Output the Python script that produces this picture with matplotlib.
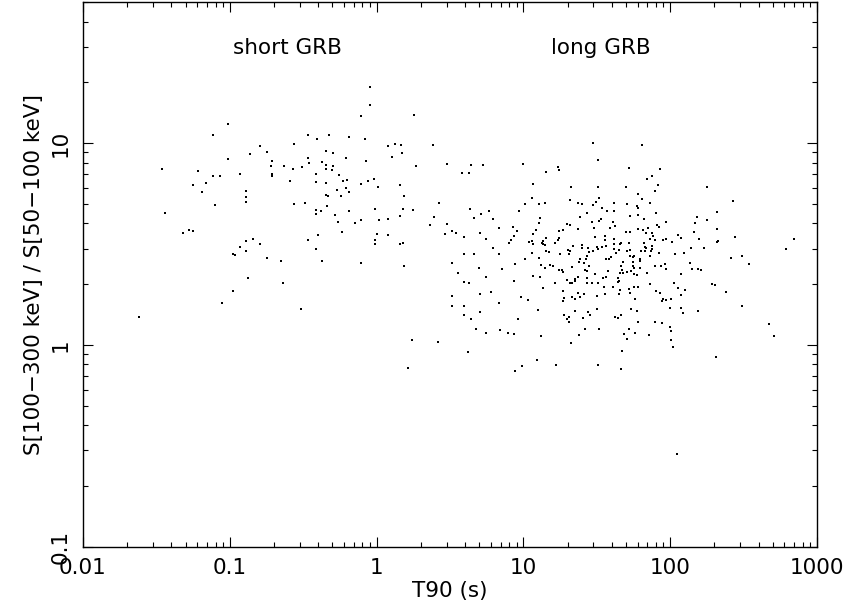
import numpy as np
import matplotlib.pyplot as plt
from matplotlib.ticker import LogLocator, FixedLocator, FixedFormatter, NullFormatter

# log10(T90 / s) and log10(hardness ratio)
lg_t90 = [
    -1.014, -1.117, -0.791, -0.750, -0.864, -1.014, -0.711, -0.721, -0.632, -1.465,
    -1.219, -0.932, -0.711, -0.711, -1.117, -1.069, -0.591, -1.165, -1.249, -1.192,
    -0.889, -0.889, -0.889, -1.103, -1.442, -1.317, -1.281, -1.249, -0.889, -0.839,
    -0.791, -0.932, -0.889, -0.980, -0.962, -0.750, -0.652, -0.875, -0.639, -0.980,
    -1.053, -1.617, -0.042, -0.042, -0.108, 0.254, -0.468, -0.326, -0.406, -0.188,
    -0.081, -0.561, 0.075, 0.122, 0.165, 0.386, -0.342, -0.299, 0.172, 0.104,
    -0.468, -0.208, -0.374, -0.458, -0.074, 0.482, -0.342, -0.299, 0.268, -0.570,
    -0.511, -0.342, -0.304, -0.410, -0.258, -0.410, -0.342, -0.229, -0.199, -0.108,
    -0.060, -0.021, -0.210, 0.010, 0.157, -0.267, -0.188, -0.342, -0.328, -0.244,
    0.184, -0.561, -0.490, -0.335, 0.425, -0.410, -0.410, -0.379, -0.285, -0.190,
    -0.010, 0.179, 0.250, -0.265, -0.147, -0.108, 0.015, 0.079, 0.157, 0.391,
    0.366, 0.480, 0.514, 0.539, 0.468, -0.236, -0.402, -0.468, 0.002, 0.075,
    -0.010, -0.010, 0.157, 0.177, -0.410, -0.372, -0.103, 0.188, 0.514, 0.557,
    0.516, 0.516, -0.513, 0.241, 0.213, 0.418,
    1.477, 1.511, 0.642, 0.724, 0.584, 0.628, 0.999, 1.154, 1.233, 1.243,
    1.062, 1.322, 1.511, 1.056, 1.315, 1.516, 1.495, 1.370, 1.400, 1.472,
    1.008, 1.106, 1.147, 1.534, 1.568, 0.635, 0.765, 0.972, 0.714, 0.666,
    0.794, 1.434, 1.383, 1.115, 1.532, 1.518, 1.465, 1.108, 1.295, 1.320,
    1.484, 1.591, 0.833, 0.926, 1.086, 1.370, 0.956, 1.240, 1.267, 0.594,
    0.703, 0.744, 0.933, 1.067, 1.486, 1.554, 1.554, 0.917, 1.154, 1.131,
    1.240, 1.236, 1.035, 1.058, 1.124, 1.133, 1.217, 0.903, 1.065, 1.144,
    1.397, 1.336, 1.400, 1.438, 1.500, 1.509, 1.534, 1.564, 1.475, 1.445,
    0.792, 1.156, 1.172, 1.301, 1.315, 0.598, 0.662, 0.835, 1.252, 1.308,
    1.436, 1.427, 1.386, 1.008, 1.108, 1.561, 1.584, 1.600,
    1.056, 0.598, 0.628, 0.698, 0.744, 0.853, 0.946, 0.935, 1.062, 1.110,
    1.117, 1.147, 1.183, 1.204, 1.240, 1.265, 1.270, 1.334, 1.377, 1.416,
    1.431, 1.420, 1.448, 1.373, 1.431, 1.431, 1.470, 1.511, 1.491, 1.541,
    1.566, 1.575, 1.547, 1.213, 1.299, 1.320, 1.329, 1.349, 1.354, 1.133,
    1.270, 0.707, 0.782, 0.985, 1.031, 1.274, 1.267, 1.331, 1.354, 1.370,
    1.386, 1.411, 1.500, 1.554, 0.598, 0.837, 0.703, 1.097, 1.352, 1.504,
    0.598, 0.646, 0.965, 1.274, 1.295, 1.311, 1.313, 1.407, 1.443, 1.452,
    0.678, 0.744, 0.842, 0.894, 0.933, 1.117, 1.418, 1.518, 1.379, 1.327,
    0.621, 1.092, 0.990, 0.944, 1.222, 1.511,
    1.810, 1.721, 1.930, 1.878, 1.839, 1.916, 1.698, 1.896, 1.784, 2.251,
    1.805, 2.429, 1.860, 1.614, 1.704, 1.771, 1.782, 1.620, 2.317, 1.901,
    1.725, 1.784, 1.819, 2.185, 2.251, 1.612, 1.969, 1.912, 1.921, 2.167,
    1.623, 1.780, 1.817, 1.851, 1.698, 1.728, 1.837, 1.873, 1.885, 2.317,
    2.160, 2.056, 2.073, 2.440, 2.843, 1.618, 1.862, 1.894, 1.948, 1.969,
    2.012, 2.199, 2.329, 2.322, 1.616, 1.661, 1.668, 1.716, 1.819, 1.614,
    1.648, 1.825, 1.832, 1.873, 1.873, 2.140, 2.228, 2.787, 1.629, 1.704,
    1.728, 1.800, 1.827, 1.868, 1.921, 2.030, 2.092, 1.723, 1.748, 1.755,
    1.793, 1.864, 2.415, 2.488,
    2.534, 1.677, 1.745, 1.791, 1.668, 1.675, 1.752, 1.745, 1.793, 1.894,
    1.937, 1.964, 1.974, 2.133, 2.148, 2.192, 2.213, 1.655, 1.680, 1.709,
    1.730, 1.750, 1.771, 1.844, 2.073, 1.646, 1.653, 1.643, 1.862, 2.026,
    2.288, 2.304, 1.609, 1.659, 1.718, 1.752, 1.780, 1.903, 1.928, 2.053,
    2.103, 2.377, 1.650, 1.725, 2.071, 1.759, 1.950, 1.944, 1.974, 2.008,
    1.730, 1.775, 1.998, 2.071, 2.085, 2.192, 2.490, 1.668, 1.627, 1.643,
    1.784, 1.898, 1.944, 2.672, 2.001, 2.005, 1.721, 1.687, 1.759, 1.855,
    2.705, 1.709, 2.005, 2.021, 1.673, 2.315, 1.668, 2.044,
]
lg_hr = [
    1.093, 1.039, 0.985, 0.957, 0.944, 0.921, 0.910, 0.888, 0.888, 0.873,
    0.861, 0.846, 0.845, 0.837, 0.838, 0.838, 0.812, 0.803, 0.790, 0.756,
    0.764, 0.731, 0.709, 0.693, 0.653, 0.555, 0.567, 0.562, 0.517, 0.527,
    0.498, 0.484, 0.463, 0.448, 0.443, 0.431, 0.416, 0.329, 0.306, 0.266,
    0.208, 0.140, 1.277, 1.190, 1.134, 1.139, 1.042, 1.040, 1.019, 1.032,
    1.022, 0.997, 0.985, 0.997, 0.989, 0.990, 0.961, 0.952, 0.952, 0.929,
    0.926, 0.924, 0.908, 0.901, 0.910, 0.896, 0.891, 0.888, 0.885, 0.871,
    0.881, 0.870, 0.868, 0.845, 0.843, 0.805, 0.800, 0.812, 0.818, 0.795,
    0.812, 0.820, 0.778, 0.780, 0.793, 0.767, 0.757, 0.744, 0.737, 0.737,
    0.736, 0.698, 0.704, 0.686, 0.704, 0.666, 0.649, 0.663, 0.646, 0.661,
    0.671, 0.673, 0.669, 0.607, 0.605, 0.617, 0.620, 0.623, 0.638, 0.633,
    0.592, 0.598, 0.565, 0.554, 0.549, 0.560, 0.544, 0.519, 0.549, 0.542,
    0.519, 0.498, 0.499, 0.507, 0.473, 0.418, 0.405, 0.391, 0.406, 0.357,
    0.244, 0.191, 0.176, 0.023, -0.116, 0.013,
    0.999, 0.914, 0.891, 0.891, 0.850, 0.850, 0.895, 0.855, 0.880, 0.868,
    0.797, 0.783, 0.782, 0.727, 0.716, 0.726, 0.707, 0.701, 0.696, 0.691,
    0.699, 0.696, 0.704, 0.678, 0.664, 0.671, 0.663, 0.664, 0.649, 0.630,
    0.625, 0.654, 0.635, 0.628, 0.623, 0.615, 0.607, 0.603, 0.597, 0.592,
    0.578, 0.577, 0.577, 0.582, 0.570, 0.572, 0.562, 0.562, 0.567, 0.537,
    0.554, 0.527, 0.540, 0.547, 0.535, 0.540, 0.522, 0.519, 0.529, 0.515,
    0.530, 0.519, 0.509, 0.515, 0.507, 0.499, 0.503, 0.503, 0.498, 0.496,
    0.494, 0.489, 0.478, 0.481, 0.483, 0.473, 0.483, 0.491, 0.466, 0.458,
    0.479, 0.466, 0.459, 0.469, 0.466, 0.451, 0.448, 0.448, 0.448, 0.448,
    0.441, 0.428, 0.428, 0.426, 0.431, 0.425, 0.425, 0.436,
    0.454, 0.314, 0.306, 0.383, 0.335, 0.375, 0.403, 0.319, 0.340, 0.335,
    0.396, 0.380, 0.395, 0.391, 0.373, 0.370, 0.360, 0.386, 0.413, 0.406,
    0.365, 0.370, 0.390, 0.337, 0.332, 0.309, 0.309, 0.307, 0.349, 0.332,
    0.337, 0.364, 0.287, 0.306, 0.320, 0.309, 0.307, 0.317, 0.325, 0.284,
    0.267, 0.251, 0.261, 0.236, 0.221, 0.233, 0.218, 0.239, 0.225, 0.256,
    0.239, 0.251, 0.244, 0.252, 0.191, 0.210, 0.165, 0.175, 0.168, 0.180,
    0.148, 0.128, 0.130, 0.148, 0.128, 0.140, 0.115, 0.135, 0.162, 0.150,
    0.081, 0.059, 0.072, 0.059, 0.056, 0.042, 0.081, 0.081, 0.051, 0.011,
    -0.034, -0.073, -0.105, -0.128, -0.100, -0.100,
    0.989, 0.875, 0.870, 0.835, 0.820, 0.792, 0.783, 0.761, 0.749, 0.783,
    0.724, 0.712, 0.704, 0.703, 0.698, 0.689, 0.678, 0.663, 0.658, 0.651,
    0.638, 0.645, 0.625, 0.632, 0.620, 0.610, 0.608, 0.595, 0.583, 0.603,
    0.587, 0.574, 0.567, 0.578, 0.559, 0.559, 0.552, 0.555, 0.539, 0.575,
    0.560, 0.542, 0.529, 0.537, 0.525, 0.527, 0.524, 0.519, 0.519, 0.524,
    0.512, 0.524, 0.517, 0.510, 0.498, 0.499, 0.504, 0.503, 0.506, 0.476,
    0.469, 0.484, 0.478, 0.488, 0.476, 0.478, 0.481, 0.473, 0.453, 0.464,
    0.469, 0.464, 0.464, 0.463, 0.453, 0.448, 0.456, 0.440, 0.435, 0.440,
    0.428, 0.440, 0.431, 0.440,
    0.403, 0.413, 0.410, 0.418, 0.390, 0.373, 0.381, 0.393, 0.380, 0.391,
    0.390, 0.401, 0.378, 0.405, 0.378, 0.376, 0.372, 0.357, 0.354, 0.359,
    0.365, 0.349, 0.344, 0.354, 0.349, 0.329, 0.319, 0.310, 0.304, 0.309,
    0.304, 0.297, 0.286, 0.272, 0.279, 0.286, 0.286, 0.267, 0.256, 0.281,
    0.274, 0.264, 0.251, 0.259, 0.246, 0.228, 0.228, 0.215, 0.223, 0.228,
    0.176, 0.168, 0.183, 0.185, 0.157, 0.168, 0.191, 0.147, 0.140, 0.133,
    0.112, 0.112, 0.106, 0.102, 0.087, 0.069, 0.077, 0.054, 0.059, 0.049,
    0.042, 0.031, 0.026, -0.012, -0.029, -0.058, -0.121, -0.542,
]

x_ticks = [0.01, 0.1, 1, 10, 100, 1000]
x_ticklabels = ["0.01", "0.1", "1", "10", "100", "1000"]
y_ticks = [0.1, 1, 10]
y_ticklabels = ["0.1", "1", "10"]

t90 = 10 ** np.array(lg_t90)
hr = 10 ** np.array(lg_hr)

plt.rcParams["font.family"] = "DejaVu Sans"
fs = 15.5
fig = plt.figure(figsize=(8.44, 6.07), dpi=100)
ax = fig.add_axes([83 / 844, 60.3 / 607, 734 / 844, 544.7 / 607])

ax.scatter(t90, hr, s=3.5, marker="s", c="black", linewidths=0)

ax.set_xscale("log")
ax.set_yscale("log")
ax.set_xlim(0.01, 1000)
ax.set_ylim(0.1, 50)

ax.xaxis.set_major_locator(FixedLocator(x_ticks))
ax.xaxis.set_major_formatter(FixedFormatter(x_ticklabels))
ax.yaxis.set_major_locator(FixedLocator(y_ticks))
ax.yaxis.set_major_formatter(FixedFormatter(y_ticklabels))
ax.xaxis.set_minor_locator(LogLocator(base=10, subs=np.arange(2, 10)))
ax.yaxis.set_minor_locator(LogLocator(base=10, subs=np.arange(2, 10)))
ax.xaxis.set_minor_formatter(NullFormatter())
ax.yaxis.set_minor_formatter(NullFormatter())

ax.tick_params(which="both", direction="in", top=True, right=True, width=0.8, labelsize=fs)
ax.tick_params(which="major", length=7.5)
ax.tick_params(which="minor", length=3.7)
ax.tick_params(axis="x", pad=8)
ax.tick_params(axis="y", pad=9)
plt.setp(ax.get_yticklabels(), rotation=90, va="center")
for s in ax.spines.values():
    s.set_linewidth(1.0)

ax.set_xlabel("T90 (s)", fontsize=fs, labelpad=2)
ax.set_ylabel("S[100\u2212300 keV] / S[50\u2212100 keV]", fontsize=fs, labelpad=5)

ax.text(0.279, 0.915, "short GRB", transform=ax.transAxes, ha="center", va="center", fontsize=fs)
ax.text(0.706, 0.915, "long GRB", transform=ax.transAxes, ha="center", va="center", fontsize=fs)

fig.savefig("out.png", dpi=100)
